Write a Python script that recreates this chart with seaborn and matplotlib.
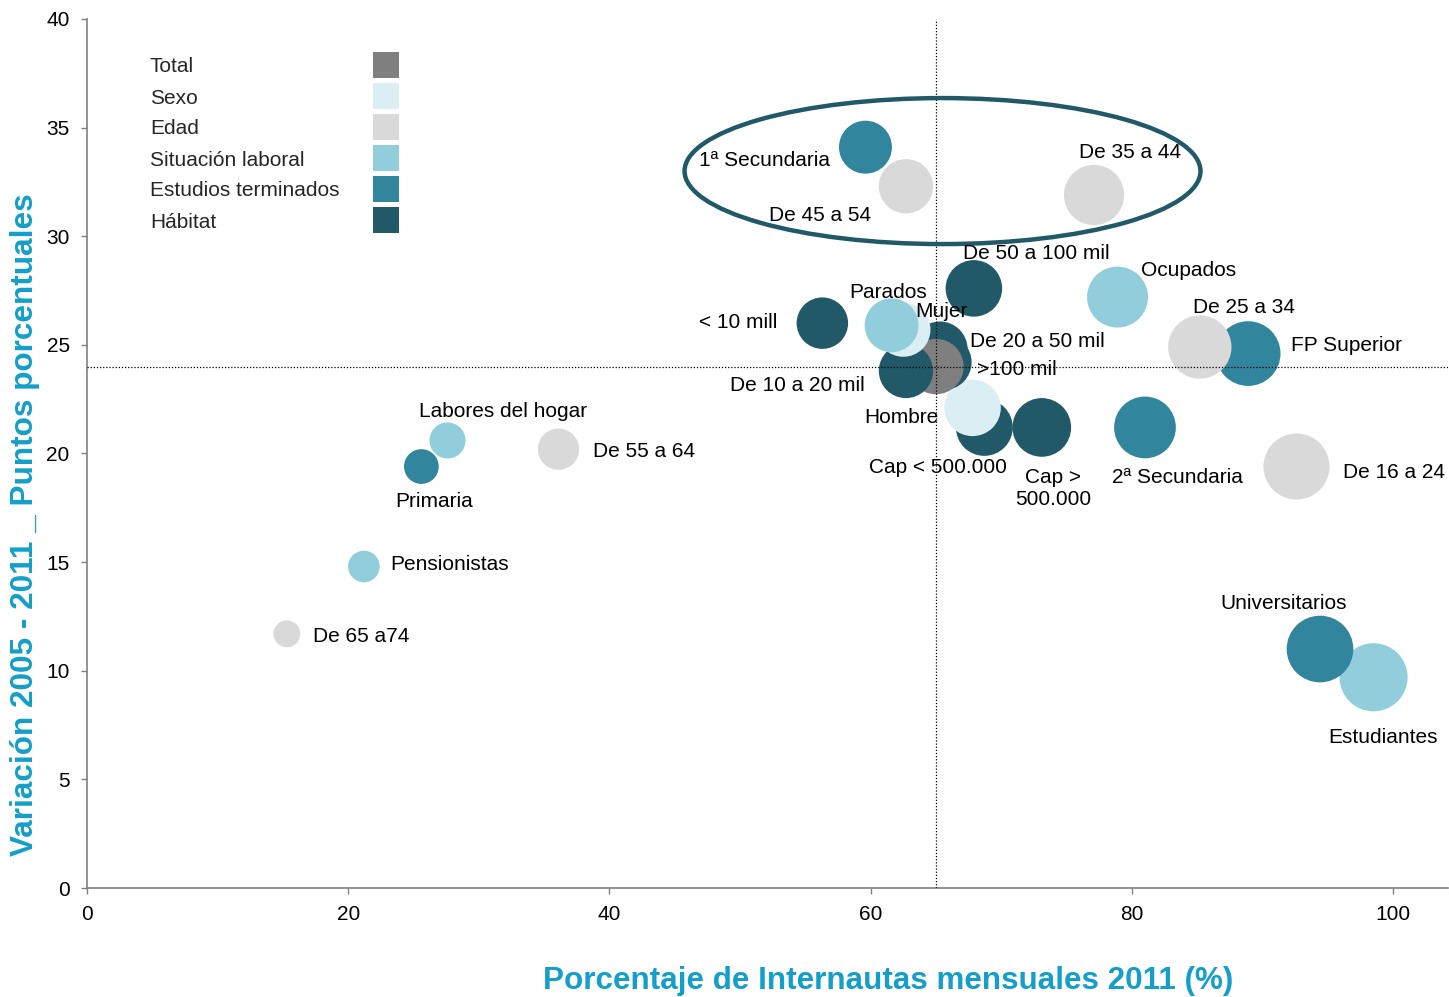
import matplotlib
matplotlib.use("Agg")
import matplotlib.pyplot as plt
from matplotlib.patches import Ellipse, Rectangle
from matplotlib import font_manager
import seaborn as sns
import pandas as pd

# Groups listed in drawing order (back to front)
labels = [
    "Estudiantes", "Universitarios", "De 16 a 24", "FP Superior", "De 25 a 34",
    "2ª Secundaria", "Ocupados", "De 35 a 44", "Cap > 500.000", "Cap < 500.000",
    "De 50 a 100 mil", "Hombre", ">100 mil", "De 20 a 50 mil", "Total",
    "De 10 a 20 mil", "De 45 a 54", "Mujer", "Parados", "1ª Secundaria",
    "< 10 mill", "De 55 a 64", "Labores del hogar", "Primaria", "Pensionistas",
    "De 65 a74",
]
categoria = [
    "Situación laboral", "Estudios terminados", "Edad", "Estudios terminados", "Edad",
    "Estudios terminados", "Situación laboral", "Edad", "Hábitat", "Hábitat",
    "Hábitat", "Sexo", "Hábitat", "Hábitat", "Total",
    "Hábitat", "Edad", "Sexo", "Situación laboral", "Estudios terminados",
    "Hábitat", "Edad", "Situación laboral", "Estudios terminados", "Situación laboral",
    "Edad",
]
internautas_2011 = [
    98.5, 94.4, 92.6, 88.9, 85.2,
    81.0, 78.9, 77.1, 73.1, 68.7,
    67.9, 67.8, 65.6, 65.3, 65.0,
    62.7, 62.7, 62.5, 61.6, 59.6,
    56.3, 36.1, 27.6, 25.6, 21.2,
    15.3,
]
variacion_05_11 = [
    9.7, 11.0, 19.4, 24.6, 24.9,
    21.2, 27.2, 31.9, 21.2, 21.2,
    27.6, 22.1, 24.2, 24.8, 24.0,
    23.8, 32.3, 25.7, 25.9, 34.1,
    26.0, 20.2, 20.6, 19.4, 14.8,
    11.7,
]

legend_order = ["Total", "Sexo", "Edad", "Situación laboral",
                "Estudios terminados", "Hábitat"]
legend_colors = ["#7F7F7F", "#DAEEF3", "#D9D9D9", "#92CDDC", "#31859C", "#215968"]

x_ticks = [0, 20, 40, 60, 80, 100]
y_ticks = [0, 5, 10, 15, 20, 25, 30, 35, 40]

# label placement: offset in pixels from the bubble centre, horizontal alignment
label_offsets = {
    "Mujer": (38, 20, "center"),
    "Hombre": (-71, -8, "center"),
    "De 16 a 24": (47, -4, "left"),
    "De 25 a 34": (44, 42, "center"),
    "De 35 a 44": (36, 44, "center"),
    "De 45 a 54": (-86, -27, "center"),
    "De 55 a 64": (34, 0, "left"),
    "De 65 a74": (26, -1, "left"),
    "Ocupados": (71, 29, "center"),
    "Parados": (-3, 35, "center"),
    "Estudiantes": (9, -58, "center"),
    "Labores del hogar": (56, 31, "center"),
    "Pensionistas": (26, 4, "left"),
    "Primaria": (13, -33, "center"),
    "1ª Secundaria": (-101, -11, "center"),
    "2ª Secundaria": (32, -48, "center"),
    "FP Superior": (43, 10, "left"),
    "Universitarios": (-36, 48, "center"),
    "< 10 mill": (-45, 3, "right"),
    "De 10 a 20 mil": (-109, -13, "center"),
    "De 20 a 50 mil": (30, 10, "left"),
    "De 50 a 100 mil": (62, 37, "center"),
    ">100 mil": (33, -5, "left"),
    "Cap < 500.000": (-46, -38, "center"),
    "Cap > 500.000": (11, -59, "center"),
}

df = pd.DataFrame({
    "grupo": labels,
    "categoria": categoria,
    "x": internautas_2011,
    "y": variacion_05_11,
})

sns.set_style("white")
plt.rcParams["font.family"] = ["Liberation Sans", "DejaVu Sans"]

available = {f.name for f in font_manager.fontManager.ttflist}
narrow = "Liberation Sans Narrow" if "Liberation Sans Narrow" in available else "Liberation Sans"

W, H = 1449, 997
fig = plt.figure(figsize=(W / 100, H / 100), dpi=100)
ax = fig.add_axes([87 / W, (H - 888) / H, (1448 - 87) / W, (888 - 19) / H])

palette = dict(zip(legend_order, legend_colors))
sns.scatterplot(
    data=df, x="x", y="y", hue="categoria", palette=palette,
    size="x", sizes=(0, 2440), size_norm=(0, 100),
    linewidth=0, alpha=1, legend=False, ax=ax, zorder=3,
)

total_x = df.loc[df.grupo == "Total", "x"].iloc[0]
total_y = df.loc[df.grupo == "Total", "y"].iloc[0]
ax.axvline(total_x, color="black", lw=0.9, ls=(0, (1, 1.5)), zorder=4)
ax.axhline(total_y, color="black", lw=0.9, ls=(0, (1, 1.5)), zorder=4)

ax.add_patch(Ellipse((65.5, 33.0), 39.5, 6.72, fill=False,
                     edgecolor="#215968", lw=3.2, zorder=5))

for _, r in df.iterrows():
    if r.grupo not in label_offsets:
        continue
    dx, dy, ha = label_offsets[r.grupo]
    txt = "Cap >\n500.000" if r.grupo == "Cap > 500.000" else r.grupo
    ax.annotate(txt, (r.x, r.y), xytext=(dx, dy - 2), textcoords="offset pixels",
                ha=ha, va="center", fontsize=15, color="black", zorder=6,
                linespacing=1.15)

ax.set_xlim(0, 104.2)
ax.set_ylim(0, 40)
ax.set_xticks(x_ticks)
ax.set_yticks(y_ticks)
ax.tick_params(axis="both", direction="out", length=4.5, width=1,
               color="#808080", labelsize=15, pad=8, labelcolor="black")
ax.tick_params(axis="x", bottom=True)
ax.tick_params(axis="y", left=True)
for side in ["top", "right"]:
    ax.spines[side].set_visible(False)
for side in ["left", "bottom"]:
    ax.spines[side].set_color("#808080")
    ax.spines[side].set_linewidth(1.2)

label_color = "#139FC9"
ax.set_xlabel("Porcentaje de Internautas mensuales 2011 (%)", fontsize=22.6,
              fontweight="bold", color=label_color)
ax.xaxis.set_label_coords((888 - 87) / 1361, (888 - 981) / 869)
ax.xaxis.label.set_va("center")
ax.set_ylabel("Variación 2005 - 2011 _ Puntos porcentuales", fontsize=22.7,
              fontweight="bold", color=label_color, family=narrow)
ax.yaxis.set_label_coords((25 - 87) / 1361, (888 - 525) / 869)
ax.yaxis.label.set_va("center")

# category key in the upper-left corner
for i, (name, col) in enumerate(zip(legend_order, legend_colors)):
    cy = 65 + 31 * i
    fig.text(150 / W, 1 - (cy + 2) / H, name, fontsize=15, va="center", ha="left")
    fig.patches.append(Rectangle((373 / W, 1 - (cy + 13) / H), 26 / W, 26 / H,
                                 transform=fig.transFigure, facecolor=col,
                                 edgecolor="none"))

fig.savefig("out.png", dpi=100)
